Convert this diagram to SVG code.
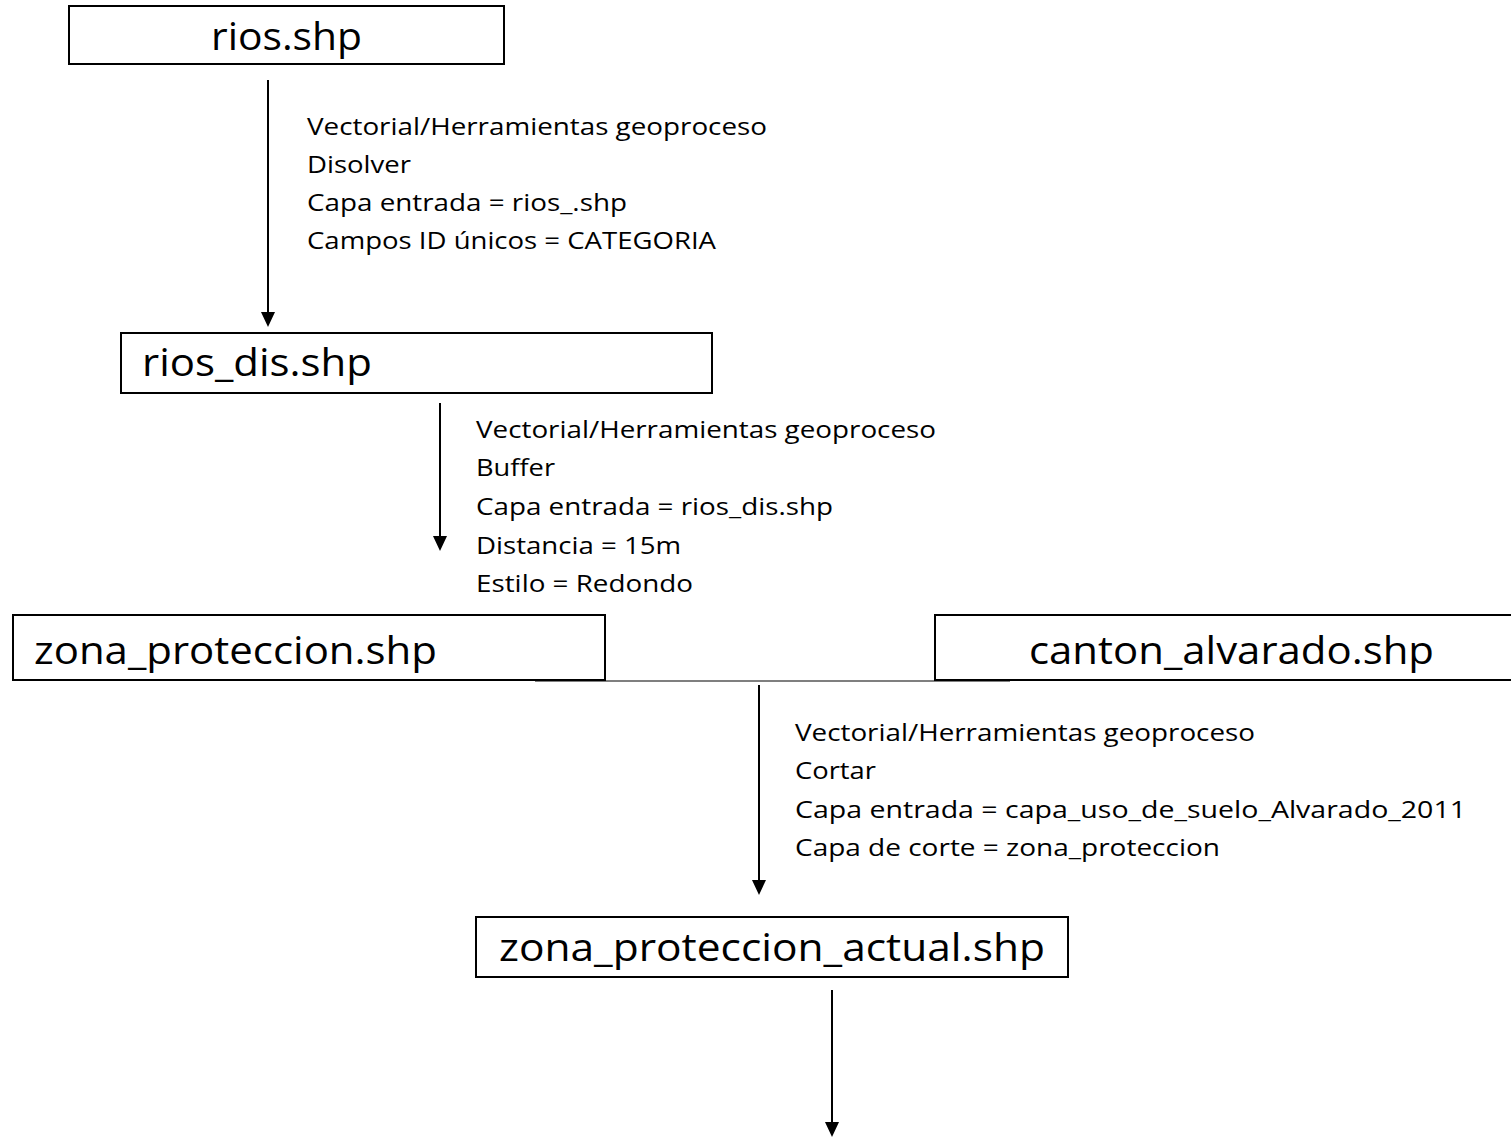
<svg xmlns="http://www.w3.org/2000/svg" width="1511" height="1137" viewBox="0 0 1511 1137">
<style>
.box{fill:#fff;stroke:#000;stroke-width:2}
.big{font-family:"Open Sans",Lato,"Liberation Sans",sans-serif;font-size:38px;fill:#000}
.small{font-family:"Open Sans",Lato,"Liberation Sans",sans-serif;font-size:24px;fill:#000}
.conn{stroke:#000;stroke-width:2;fill:none}
.head{fill:#000}
</style>
<rect width="1511" height="1137" fill="#fff"/>
<g id="connectors">
<line class="conn" x1="268" y1="80" x2="268" y2="313"/>
<path class="head" d="M261,312 L275,312 L268,327 Z"/>
<line class="conn" x1="440" y1="403" x2="440" y2="537"/>
<path class="head" d="M433,536 L447,536 L440,551 Z"/>
<line x1="535" y1="681" x2="1010" y2="681" stroke="#000" stroke-width="1.2"/>
<line class="conn" x1="759" y1="685" x2="759" y2="881"/>
<path class="head" d="M752,880 L766,880 L759,895 Z"/>
<line class="conn" x1="832" y1="990" x2="832" y2="1123"/>
<path class="head" d="M825,1122 L839,1122 L832,1137 Z"/>
</g>
<g id="label1">
<text class="small" x="307" y="135" textLength="460" lengthAdjust="spacingAndGlyphs">Vectorial/Herramientas geoproceso</text>
<text class="small" x="307" y="173" textLength="104" lengthAdjust="spacingAndGlyphs">Disolver</text>
<text class="small" x="307" y="211" textLength="320" lengthAdjust="spacingAndGlyphs">Capa entrada = rios_.shp</text>
<text class="small" x="307" y="249" textLength="409" lengthAdjust="spacingAndGlyphs">Campos ID únicos = CATEGORIA</text>
</g>
<g id="label2">
<text class="small" x="476" y="438" textLength="460" lengthAdjust="spacingAndGlyphs">Vectorial/Herramientas geoproceso</text>
<text class="small" x="476" y="476" textLength="79" lengthAdjust="spacingAndGlyphs">Buffer</text>
<text class="small" x="476" y="515" textLength="357" lengthAdjust="spacingAndGlyphs">Capa entrada = rios_dis.shp</text>
<text class="small" x="476" y="554" textLength="205" lengthAdjust="spacingAndGlyphs">Distancia = 15m</text>
<text class="small" x="476" y="592" textLength="217" lengthAdjust="spacingAndGlyphs">Estilo = Redondo</text>
</g>
<g id="label3">
<text class="small" x="795" y="741" textLength="460" lengthAdjust="spacingAndGlyphs">Vectorial/Herramientas geoproceso</text>
<text class="small" x="795" y="779" textLength="81" lengthAdjust="spacingAndGlyphs">Cortar</text>
<text class="small" x="795" y="818" textLength="671" lengthAdjust="spacingAndGlyphs">Capa entrada = capa_uso_de_suelo_Alvarado_2011</text>
<text class="small" x="795" y="856" textLength="425" lengthAdjust="spacingAndGlyphs">Capa de corte = zona_proteccion</text>
</g>
<g id="node-rios">
<rect class="box" x="69" y="6" width="435" height="58"/>
<text class="big" x="211" y="50" textLength="151" lengthAdjust="spacingAndGlyphs">rios.shp</text>
</g>
<g id="node-rios-dis">
<rect class="box" x="121" y="333" width="591" height="60"/>
<text class="big" x="142" y="376" textLength="230" lengthAdjust="spacingAndGlyphs">rios_dis.shp</text>
</g>
<g id="node-zona-proteccion">
<rect class="box" x="13" y="615" width="592" height="65"/>
<text class="big" x="34" y="664" textLength="403" lengthAdjust="spacingAndGlyphs">zona_proteccion.shp</text>
</g>
<g id="node-canton-alvarado">
<rect class="box" x="935" y="615" width="590" height="65"/>
<text class="big" x="1029" y="664" textLength="405" lengthAdjust="spacingAndGlyphs">canton_alvarado.shp</text>
</g>
<g id="node-zona-proteccion-actual">
<rect class="box" x="476" y="917" width="592" height="60"/>
<text class="big" x="499" y="961" textLength="546" lengthAdjust="spacingAndGlyphs">zona_proteccion_actual.shp</text>
</g>
</svg>
